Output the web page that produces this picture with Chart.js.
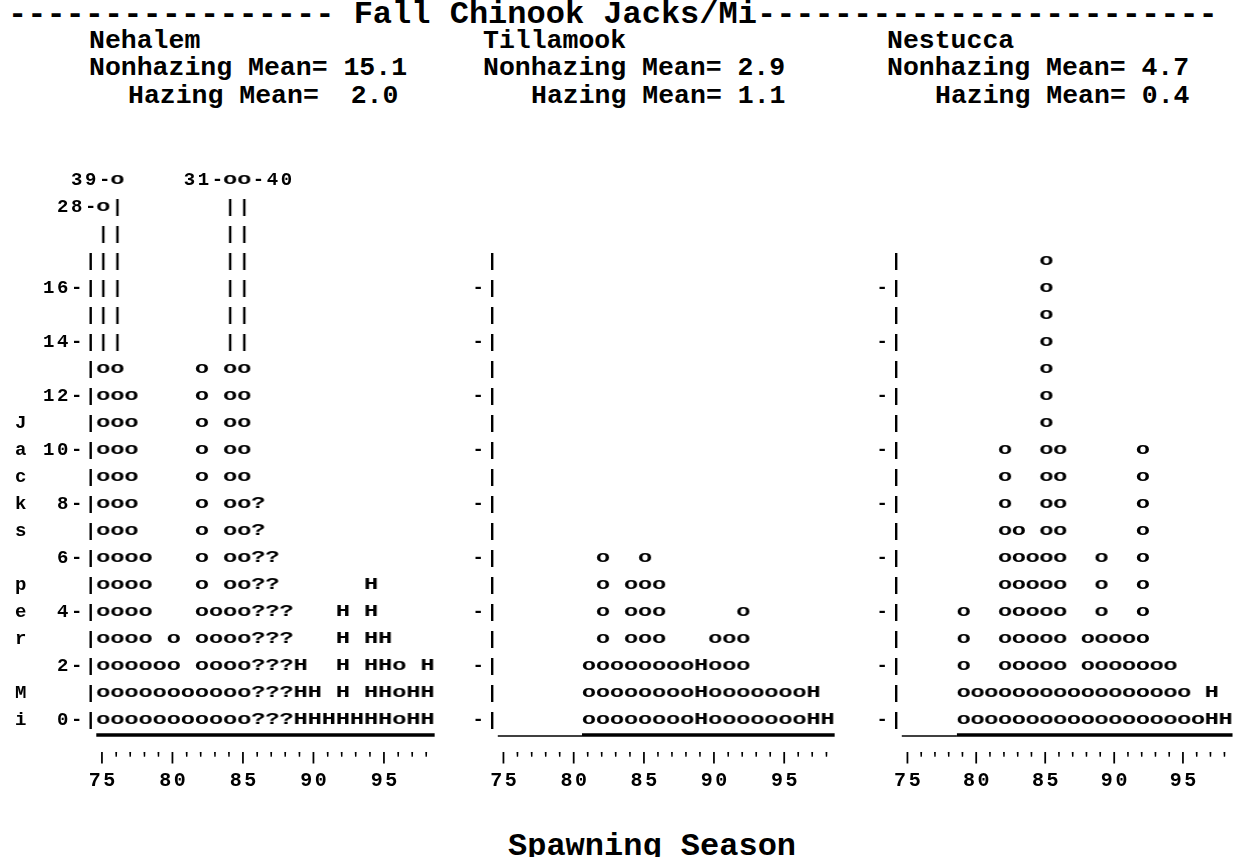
<!DOCTYPE html>
<html>
<head>
<meta charset="utf-8">
<title>Fall Chinook Jacks/Mi</title>
<script src="https://cdn.jsdelivr.net/npm/chart.js@4.4.0/dist/chart.umd.min.js"></script>
<style>
  body { margin: 0; background: #fff; }
  #page { position: relative; width: 1248px; height: 857px; overflow: hidden;
          font-family: "Liberation Mono", "Courier New", monospace; font-weight: bold; color: #000; }
  .txt { position: absolute; white-space: pre; line-height: 1; }
  .head { font-size: 26.5px; }
  canvas { position: absolute; top: 150px; }
</style>
</head>
<body>
<div id="page">
  <div class="txt" style="left:8px; top:-1px; font-size:32px">----------------- Fall Chinook Jacks/Mi------------------------</div>

  <div class="txt head" style="left:89px; top:28px">Nehalem</div>
  <div class="txt head" style="left:89px; top:55px">Nonhazing Mean= 15.1</div>
  <div class="txt head" style="left:128px; top:83px">Hazing Mean=  2.0</div>

  <div class="txt head" style="left:483px; top:28px">Tillamook</div>
  <div class="txt head" style="left:483px; top:55px">Nonhazing Mean= 2.9</div>
  <div class="txt head" style="left:531px; top:83px">Hazing Mean= 1.1</div>

  <div class="txt head" style="left:887px; top:28px">Nestucca</div>
  <div class="txt head" style="left:887px; top:55px">Nonhazing Mean= 4.7</div>
  <div class="txt head" style="left:935px; top:83px">Hazing Mean= 0.4</div>

  <canvas id="nehalem" width="450" height="654" style="left:0px"></canvas>
  <canvas id="tillamook" width="400" height="654" style="left:450px"></canvas>
  <canvas id="nestucca" width="398" height="654" style="left:850px"></canvas>

  <div class="txt" style="left:508px; top:831px; font-size:32px">Spawning Season</div>
</div>

<script>
// ---- datos: jacks por milla, redondeados, 1975-1998 ----
const years = [75, 76, 77, 78, 79, 80, 81, 82, 83, 84, 85, 86, 87, 88, 89, 90, 91, 92, 93, 94, 95, 96, 97, 98];

const nehalemJacks   = [28, 39, 12, 6, 2, 3, 1, 13, 4, 31, 40, 8, 6, 4, 2, 1, 0, 4, 0, 5, 3, 2, 1, 2];
const nehalemGroup   = "ooooooooooo???HHHHHHHoHH";   // o = sin hazing, H = hazing, ? = desconocido

const tillamookJacks = [null, null, null, null, null, null, 2, 6, 2, 5, 6, 5, 2, 2, 2, 3, 3, 4, 1, 1, 1, 1, 1, 0];
const tillamookGroup = "......ooooooooHoooooooHH";

const nestuccaJacks  = [null, null, null, null, 4, 1, 1, 10, 7, 6, 17, 10, 1, 3, 6, 3, 3, 10, 2, 2, 1, 0, 1, 0];
const nestuccaGroup  = "....ooooooooooooooooooHH";

const yTitle = "Jacks per Mi";
const axisTop = 17;     // ultima fila del eje
const breakAt = 13;     // columnas cortadas: o hasta aqui, luego |
// fila y lado de la etiqueta de los valores fuera de escala
const outlierPlace = { 75: [19, 'left'], 76: [20, 'left'], 84: [20, 'left'], 85: [20, 'right'] };

const FONT = '"Liberation Mono", "Courier New", monospace';
const SPACING = 2.6;    // espacio extra entre letras para la rejilla de 14.33 px
const rows = [];
for (let r = 0; r <= axisTop; r++) rows.push(r);

// caracter dibujado como pointStyle
function glyph(ch, size, sx) {
  const c = document.createElement('canvas');
  c.width = 20; c.height = 30;
  const g = c.getContext('2d');
  g.fillStyle = '#000';
  g.textAlign = 'center';
  g.textBaseline = 'middle';
  g.font = 'bold ' + size + 'px ' + FONT;
  g.translate(10, 15);
  g.scale(sx, 1);
  g.fillText(ch, 0, 0);
  return c;
}
const glyphs = {
  'o': glyph('o', 17, 1.4),
  'H': glyph('H', 17, 1.4),
  '?': glyph('?', 17, 1.4),
  '|': glyph('|', 19, 1)
};

// apila un caracter por fila, de 0 hasta el valor
function stack(vals, groups) {
  const pts = { 'o': [], 'H': [], '?': [], '|': [] };
  const out = [];
  vals.forEach((v, i) => {
    if (v === null) return;
    const g = groups[i], yr = years[i];
    const top = v > axisTop ? breakAt : v;
    for (let r = 0; r <= top; r++) pts[g].push({ x: yr, y: r });
    if (v > axisTop) {
      const [lr, side] = outlierPlace[yr];
      for (let r = breakAt + 1; r < lr; r++) pts['|'].push({ x: yr, y: r });
      pts[g].push({ x: yr, y: lr });
      out.push({ year: yr, row: lr, side: side, value: v });
    }
  });
  return { pts, out };
}

// texto con el paso de la fuente monoespaciada original
const letterGrid = {
  id: 'letterGrid',
  beforeDraw(chart) { chart.ctx.letterSpacing = SPACING + 'px'; },
  afterDraw(chart) { chart.ctx.letterSpacing = '0px'; }
};

const baseLine = {
  id: 'baseLine',
  afterDatasetsDraw(chart, args, opts) {
    const { ctx, chartArea: a, scales: { x } } = chart;
    const yb = a.bottom + 1.5;
    const start = x.getPixelForValue(opts.firstYear - 0.5);
    ctx.save();
    ctx.strokeStyle = '#000';
    if (start > a.left + 1) {
      ctx.lineWidth = 1.5;
      ctx.beginPath(); ctx.moveTo(a.left, yb + 1); ctx.lineTo(start, yb + 1); ctx.stroke();
    }
    ctx.lineWidth = 3.5;
    ctx.beginPath(); ctx.moveTo(start, yb); ctx.lineTo(a.right, yb); ctx.stroke();
    ctx.restore();
  }
};

const outlierLabels = {
  id: 'outlierLabels',
  afterDatasetsDraw(chart, args, opts) {
    if (!opts.items || !opts.items.length) return;
    const { ctx, scales: { x, y } } = chart;
    const half = (x.getPixelForValue(1) - x.getPixelForValue(0)) / 2;
    ctx.save();
    ctx.font = 'bold 19px ' + FONT;
    ctx.fillStyle = '#000';
    ctx.textBaseline = 'middle';
    opts.items.forEach(it => {
      const px = x.getPixelForValue(it.year), py = y.getPixelForValue(it.row);
      if (it.side === 'left') { ctx.textAlign = 'right'; ctx.fillText(it.value + '-', px - half + SPACING, py); }
      else { ctx.textAlign = 'left'; ctx.fillText('-' + it.value, px + half + SPACING / 2, py); }
    });
    ctx.restore();
  }
};

function nehalemLabel(v) {
  const letter = v <= 11 ? yTitle[11 - v] : ' ';
  const num = v % 2 === 0 ? String(v).padStart(2) + '-' : '   ';
  return letter + ' ' + num + '|';
}
function plainLabel(v) {
  return v % 2 === 0 ? '-|' : '|';
}

function makePanel(id, vals, groups, axisW, padRight, label) {
  const { pts, out } = stack(vals, groups);
  const datasets = Object.keys(pts).map(k => ({
    label: k,
    data: pts[k],
    pointStyle: glyphs[k],
    pointRadius: 7,
    showLine: false,
    clip: false
  }));
  const firstYear = years[vals.findIndex(v => v !== null)];
  const tickFont = size => ({ family: FONT, size: size, weight: 'bold' });

  return new Chart(document.getElementById(id), {
    type: 'scatter',
    data: { datasets },
    plugins: [letterGrid, baseLine, outlierLabels],
    options: {
      responsive: false,
      animation: false,
      events: [],
      layout: { padding: { top: 16.5, bottom: 0.5, left: 0, right: padRight } },
      plugins: {
        legend: { display: false },
        tooltip: { enabled: false },
        baseLine: { firstYear },
        outlierLabels: { items: out }
      },
      scales: {
        x: {
          type: 'linear', position: 'bottom', weight: 2, min: 74.5, max: 98.5,
          afterBuildTicks: s => { s.ticks = years.filter(y => y % 5 === 0).map(v => ({ value: v })); },
          afterFit: s => { s.height = 40; },
          grid: { display: false, drawTicks: false },
          border: { display: false },
          ticks: { autoSkip: false, maxRotation: 0, padding: 5, color: '#000', font: tickFont(20),
                   callback: v => String(v) }
        },
        x2: {
          type: 'linear', position: 'bottom', weight: 1, min: 74.5, max: 98.5,
          afterBuildTicks: s => { s.ticks = years.map(v => ({ value: v })); },
          afterFit: s => { s.height = 30; },
          grid: { display: false, drawTicks: false },
          border: { display: false },
          ticks: { autoSkip: false, maxRotation: 0, padding: 18, color: '#000', font: tickFont(14),
                   callback: v => (v % 5 === 0 ? '|' : "'") }
        },
        y: {
          type: 'linear', position: 'left', min: -0.5, max: 20.5,
          afterBuildTicks: s => { s.ticks = rows.map(v => ({ value: v })); },
          afterFit: s => { s.width = axisW; },
          grid: { display: false, drawTicks: false },
          border: { display: false },
          ticks: { autoSkip: false, padding: -SPACING, color: '#000', font: tickFont(19), callback: v => label(v) }
        }
      }
    }
  });
}

makePanel('nehalem',   nehalemJacks,   nehalemGroup,   96.3, 9.7, nehalemLabel);
makePanel('tillamook', tillamookJacks, tillamookGroup, 47.8, 8.2, plainLabel);
makePanel('nestucca',  nestuccaJacks,  nestuccaGroup,  51.8, 2.2, plainLabel);
</script>
</body>
</html>
